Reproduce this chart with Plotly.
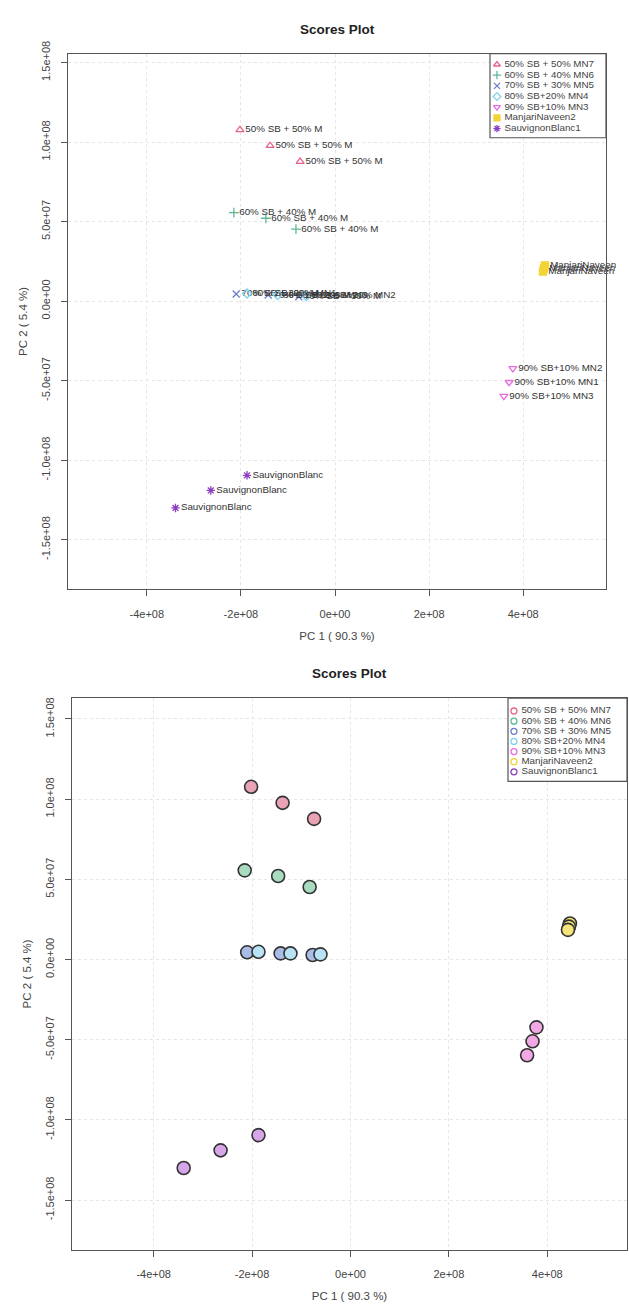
import plotly.graph_objects as go

W, H = 629, 1310

# ---------------- data ----------------
group_names = ["50% SB + 50% MN7", "60% SB + 40% MN6", "70% SB + 30% MN5",
               "80% SB+20% MN4", "90% SB+10% MN3", "ManjariNaveen2", "SauvignonBlanc1"]
line_colors = ["#E8638C", "#5DB89A", "#6B7FC8", "#7FD3EE", "#E86BE0", "#F2D434", "#8A3FC0"]
fill_colors = ["#E9A3B4", "#A9DBBF", "#A9BCE6", "#B7E3F5", "#F1A9E6", "#F5E57A", "#D7A6E8"]
top_symbols = ["triangle-up-open", "cross-thin-open", "x-thin-open", "diamond-open",
               "triangle-down-open", "square", "asterisk-open"]

pc1_g1 = [-2.02e8, -1.38e8, -0.74e8]
pc2_g1 = [1.077e8, 0.977e8, 0.877e8]
lab_g1 = ["50% SB + 50% M", "50% SB + 50% M", "50% SB + 50% M"]

pc1_g2 = [-2.15e8, -1.47e8, -0.83e8]
pc2_g2 = [0.556e8, 0.521e8, 0.452e8]
lab_g2 = ["60% SB + 40% M", "60% SB + 40% M", "60% SB + 40% M"]

pc1_g3 = [-2.10e8, -1.42e8, -0.77e8]
pc2_g3 = [0.045e8, 0.038e8, 0.028e8]
lab_g3 = ["70% SB + 30% M", "70% SB + 30% M", "70% SB + 30% M"]

pc1_g4 = [-1.87e8, -1.22e8, -0.61e8]
pc2_g4 = [0.048e8, 0.038e8, 0.032e8]
lab_g4 = ["80% SB+20% MN1", "80% SB+20% MN3", "80% SB+20% MN2"]

pc1_g5 = [3.78e8, 3.70e8, 3.59e8]
pc2_g5 = [-0.423e8, -0.510e8, -0.597e8]
lab_g5 = ["90% SB+10% MN2", "90% SB+10% MN1", "90% SB+10% MN3"]

pc1_g6 = [4.46e8, 4.44e8, 4.42e8]
pc2_g6 = [0.225e8, 0.205e8, 0.185e8]
lab_g6 = ["ManjariNaveen", "ManjariNaveen", "ManjariNaveen"]

pc1_g7 = [-1.87e8, -2.64e8, -3.39e8]
pc2_g7 = [-1.095e8, -1.19e8, -1.30e8]
lab_g7 = ["SauvignonBlanc", "SauvignonBlanc", "SauvignonBlanc"]

x_tickvals = [-4e8, -2e8, 0, 2e8, 4e8]
x_ticktext = ["-4e+08", "-2e+08", "0e+00", "2e+08", "4e+08"]
y_tickvals = [1.5e8, 1.0e8, 5.0e7, 0, -5.0e7, -1.0e8, -1.5e8]
y_ticktext = ["1.5e+08", "1.0e+08", "5.0e+07", "0.0e+00", "-5.0e+07", "-1.0e+08", "-1.5e+08"]

x_title = "PC 1 ( 90.3 %)"
y_title = "PC 2 ( 5.4 %)"
plot_title = "Scores Plot"

pc1 = [pc1_g1, pc1_g2, pc1_g3, pc1_g4, pc1_g5, pc1_g6, pc1_g7]
pc2 = [pc2_g1, pc2_g2, pc2_g3, pc2_g4, pc2_g5, pc2_g6, pc2_g7]
labs = [lab_g1, lab_g2, lab_g3, lab_g4, lab_g5, lab_g6, lab_g7]

# ---------------- layout geometry (pixels) ----------------
def px_x(a, b):
    return [a / W, b / W]

def px_y(top, bottom):
    return [1 - bottom / H, 1 - top / H]

FONT = "Liberation Sans"
xr_top = [-5.675e8, 5.76e8]
yr_top = [-1.811e8, 1.556e8]
xr_bot = [-5.66e8, 5.62e8]
yr_bot = [-1.809e8, 1.630e8]

fig = go.Figure()

# top panel: labelled, hollow symbols
for i in range(7):
    fig.add_trace(go.Scatter(
        x=pc1[i], y=pc2[i], mode="markers+text", text=labs[i],
        textposition="middle right",
        textfont=dict(family=FONT, size=9.8, color="#333333"),
        marker=dict(symbol=top_symbols[i], size=7, color=line_colors[i],
                    line=dict(color=line_colors[i], width=1.3)),
        name=group_names[i], showlegend=False, xaxis="x", yaxis="y", cliponaxis=False))

# bottom panel: filled circles
for i in range(7):
    fig.add_trace(go.Scatter(
        x=pc1[i], y=pc2[i], mode="markers",
        marker=dict(symbol="circle", size=13, color=fill_colors[i],
                    line=dict(color="#333333", width=1.6)),
        name=group_names[i], showlegend=False, xaxis="x2", yaxis="y2"))

# legends drawn as small keyed lists inside each panel
leg_y = list(range(7))
leg_text = [" " + g for g in group_names]
fig.add_trace(go.Scatter(
    x=[0.06] * 7, y=leg_y, mode="markers+text", text=leg_text,
    textposition="middle right",
    textfont=dict(family=FONT, size=9.8, color="#444444"),
    marker=dict(symbol=top_symbols, size=6, color=line_colors,
                line=dict(color=line_colors, width=1.3)),
    showlegend=False, xaxis="x3", yaxis="y3", hoverinfo="skip", cliponaxis=False))
fig.add_trace(go.Scatter(
    x=[0.05] * 7, y=leg_y, mode="markers+text", text=leg_text,
    textposition="middle right",
    textfont=dict(family=FONT, size=9.8, color="#444444"),
    marker=dict(symbol="circle-open", size=6, color=line_colors,
                line=dict(color=line_colors, width=1.3)),
    showlegend=False, xaxis="x4", yaxis="y4", hoverinfo="skip", cliponaxis=False))

top_box = (68, 606, 41, 582)
bot_box = (72, 627, 692, 1249)
leg1 = (490, 606, 41, 126)
leg2 = (508, 627, 692, 776)

def xax(domain, anchor, rng):
    return dict(domain=domain, anchor=anchor, range=rng, tickvals=x_tickvals, ticktext=x_ticktext,
                ticks="outside", ticklen=6, tickcolor="#555", showline=True, mirror=True,
                linecolor="#555", linewidth=1.2, showgrid=True, gridcolor="#e6e6e6",
                griddash="dot", gridwidth=1, zeroline=False, ticklabelstandoff=8,
                tickfont=dict(family=FONT, size=11, color="#444"),
                title=dict(text=x_title, font=dict(family=FONT, size=11.5, color="#444"), standoff=13))

def yax(domain, anchor, rng):
    return dict(domain=domain, anchor=anchor, range=rng, tickvals=y_tickvals, ticktext=y_ticktext,
                ticks="outside", ticklen=6, tickcolor="#555", showline=True, mirror=True,
                linecolor="#555", linewidth=1.2, showgrid=True, gridcolor="#e6e6e6",
                griddash="dot", gridwidth=1, zeroline=False, tickangle=-90, ticklabelstandoff=7,
                tickfont=dict(family=FONT, size=11, color="#444"),
                title=dict(text=y_title, font=dict(family=FONT, size=11.5, color="#444"), standoff=9))

def legax(domain, anchor, rng):
    return dict(domain=domain, anchor=anchor, visible=False, fixedrange=True, range=rng)

fig.update_layout(
    width=W, height=H, margin=dict(l=0, r=0, t=0, b=0),
    paper_bgcolor="white", plot_bgcolor="white",
    xaxis=xax(px_x(top_box[0], top_box[1]), "y", xr_top),
    yaxis=yax(px_y(top_box[2], top_box[3]), "x", yr_top),
    xaxis2=xax(px_x(bot_box[0], bot_box[1]), "y2", xr_bot),
    yaxis2=yax(px_y(bot_box[2], bot_box[3]), "x2", yr_bot),
    xaxis3=legax(px_x(leg1[0], leg1[1]), "y3", [0, 1]),
    yaxis3=legax(px_y(leg1[2], leg1[3]), "x3", [6.86, -1.02]),
    xaxis4=legax(px_x(leg2[0], leg2[1]), "y4", [0, 1]),
    yaxis4=legax(px_y(leg2[2], leg2[3]), "x4", [6.93, -1.27]),
    showlegend=False,
)

for (a, b, t, bt) in (leg1, leg2):
    fig.add_shape(type="rect", xref="paper", yref="paper",
                  x0=a / W, x1=b / W, y0=1 - bt / H, y1=1 - t / H,
                  line=dict(color="#555", width=1.2), fillcolor="rgba(0,0,0,0)")

for (box, ty) in ((top_box, 17), (bot_box, 667)):
    fig.add_annotation(text="<b>" + plot_title + "</b>", xref="paper", yref="paper",
                       x=(box[0] + box[1]) / 2 / W, y=1 - ty / H, showarrow=False,
                       font=dict(family=FONT, size=13.5, color="#222"),
                       xanchor="center", yanchor="middle")

fig.write_html("out.html", config={"displayModeBar": False},
               post_script="document.body.style.margin='0';document.body.style.overflow='hidden';")
